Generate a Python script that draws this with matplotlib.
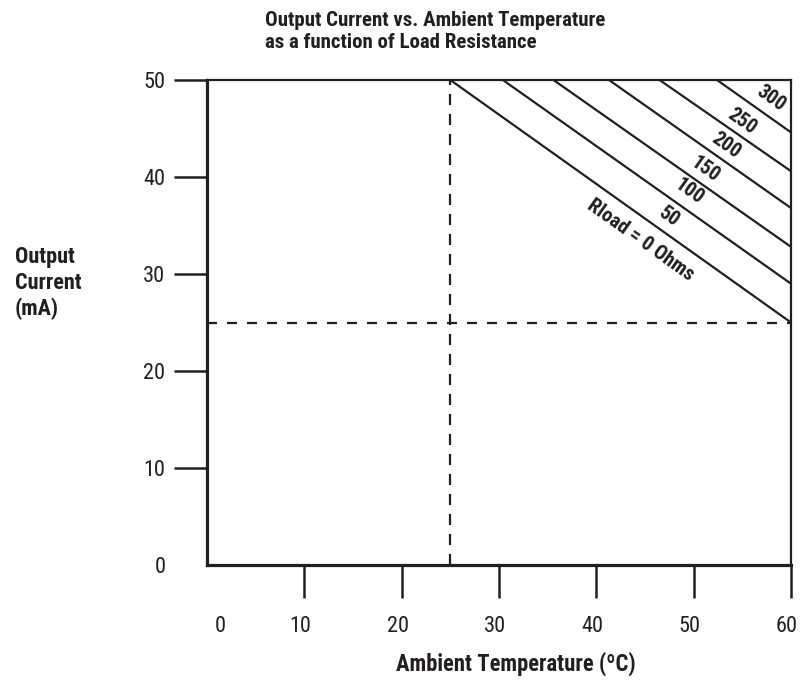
import math

import matplotlib

matplotlib.use("Agg")
import matplotlib.pyplot as plt
from matplotlib.transforms import ScaledTranslation

# derating lines: temperature where each line meets 50 mA, current where it meets 60 C
line_start_temp = [25.0, 30.4, 35.6, 41.3, 46.5, 52.4]
line_end_current = [25.0, 29.0, 32.8, 36.8, 40.6, 44.6]
x_max, y_max = 60, 50

# load resistance labels and where they sit
load_labels = ["Rload = 0 Ohms", "50", "100", "150", "200", "250", "300"]
label_temp = [44.6, 47.4, 49.5, 51.2, 53.3, 55.0, 58.0]
label_current = [33.5, 35.9, 38.5, 40.8, 43.3, 45.7, 48.1]

# dashed reference lines
ref_temp = 25
ref_current = 25

x_ticks = [0, 10, 20, 30, 40, 50, 60]
y_ticks = [0, 10, 20, 30, 40, 50]

ink = "#231f20"
plt.rcParams["font.family"] = ["Roboto Condensed", "DejaVu Sans"]
plt.rcParams["text.color"] = ink

fig = plt.figure(figsize=(8.01, 6.8), dpi=100)
ax = fig.add_axes([207 / 801, 1 - 565 / 680, 584 / 801, 485 / 680])
ax.set_xlim(0, x_max)
ax.set_ylim(0, y_max)

for s in ["left", "bottom"]:
    ax.spines[s].set_linewidth(2.3)
for s in ["top", "right"]:
    ax.spines[s].set_linewidth(1.6)
for s in ax.spines.values():
    s.set_color(ink)

ax.set_xticks(x_ticks)
ax.set_xticklabels([str(v) for v in x_ticks])
ax.set_yticks(y_ticks)
ax.set_yticklabels([str(v) for v in y_ticks])
ax.tick_params(axis="x", direction="out", length=24, width=1.8, color=ink,
               pad=13, labelsize=16, labelcolor=ink)
ax.tick_params(axis="y", direction="out", length=24, width=1.8, color=ink,
               pad=6, labelsize=16, labelcolor=ink)
ax.xaxis.get_major_ticks()[0].tick1line.set_visible(False)
ax.yaxis.get_major_ticks()[0].tick1line.set_visible(False)

# nudge x tick labels a bit like the original
for i, lab in enumerate(ax.get_xticklabels()):
    dx = 13 if i == 0 else -4
    lab.set_transform(lab.get_transform() + ScaledTranslation(dx / 100, 0, fig.dpi_scale_trans))

# dashed guides
ax.plot([ref_temp, ref_temp], [0, y_max], color=ink, lw=1.6, ls=(0, (5, 4)))
ax.plot([0, x_max], [ref_current, ref_current], color=ink, lw=1.6, ls=(0, (4.5, 4.5)))

# derating lines
for t0, i1 in zip(line_start_temp, line_end_current):
    ax.plot([t0, x_max], [y_max, i1], color=ink, lw=1.6, solid_capstyle="butt")

p1 = ax.transData.transform((line_start_temp[0], y_max))
p2 = ax.transData.transform((x_max, line_end_current[0]))
angle = math.degrees(math.atan2(p2[1] - p1[1], p2[0] - p1[0]))

for txt, tx, ty in zip(load_labels, label_temp, label_current):
    ax.text(tx, ty, txt, rotation=angle, rotation_mode="anchor", ha="center",
            va="center", fontsize=14.5, fontweight="bold")

fig.text(265 / 801, 1 - 31 / 680,
         "Output Current vs. Ambient Temperature\nas a function of Load Resistance",
         ha="left", va="center", fontsize=15, fontweight="bold", linespacing=1.2)
fig.text(15 / 801, 1 - 283 / 680, "Output\nCurrent\n(mA)", ha="left", va="center",
         fontsize=16, fontweight="bold", linespacing=1.2)
fig.text(516 / 801, 1 - 664 / 680, "Ambient Temperature (ºC)", ha="center",
         va="center", fontsize=16.3, fontweight="bold")

fig.savefig("out.png", dpi=100)
